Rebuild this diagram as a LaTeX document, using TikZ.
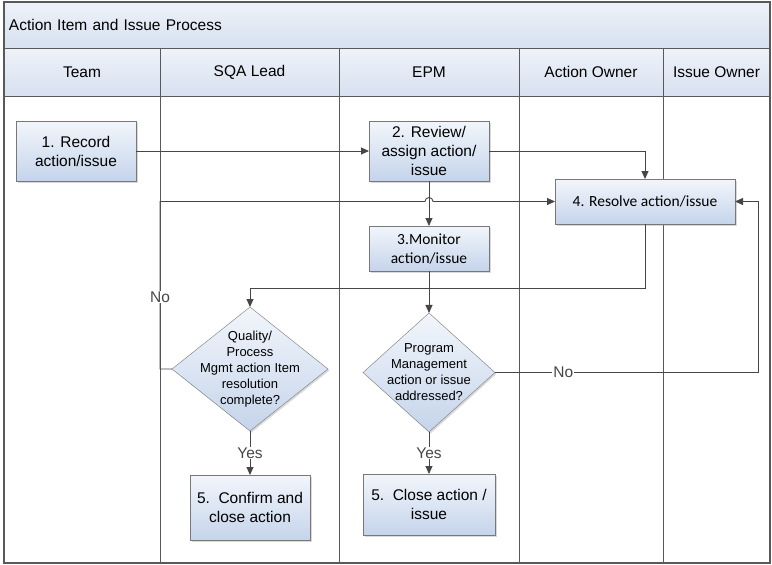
\documentclass[tikz,border=0pt]{standalone}
\usepackage{fontspec}
\setmainfont{Liberation Sans}
\newfontfamily\calfont{Carlito}
\usetikzlibrary{positioning,shapes.geometric,arrows.meta,shadows}
\definecolor{laneLine}{RGB}{89,89,89}
\definecolor{headTop}{RGB}{238,242,249}
\definecolor{headBot}{RGB}{215,225,240}
\definecolor{boxTop}{RGB}{242,246,251}
\definecolor{boxBot}{RGB}{197,212,235}
\definecolor{boxLine}{RGB}{120,120,120}
\definecolor{flowLine}{RGB}{70,70,70}

\begin{document}
\begin{tikzpicture}[x=1pt, y=-1pt,
    head/.style={draw=laneLine, line width=1pt, top color=headTop, bottom color=headBot, minimum height=48pt, outer sep=0pt, inner sep=0pt, font=\fontsize{15.5}{19}\selectfont},
    box/.style={draw=boxLine, top color=boxTop, bottom color=boxBot, align=center, inner sep=2pt, outer sep=0pt, font=\fontsize{15.5}{19}\selectfont, drop shadow={opacity=0.3, shadow xshift=1.5pt, shadow yshift=-1.5pt}},
    decision/.style={diamond, draw=boxLine, top color=boxTop, bottom color=boxBot, inner sep=0pt, outer sep=0pt, drop shadow={opacity=0.3, shadow xshift=1.5pt, shadow yshift=-1.5pt}},
    dtext/.style={align=center, font=\fontsize{13}{16}\selectfont},
    lbl/.style={fill=white, inner sep=1pt, font=\fontsize{15.5}{19}\selectfont},
    arrow/.style={-{Triangle[length=8pt,width=7pt]}, line width=0.9pt, flowLine}
  ]
  \useasboundingbox (0,0) rectangle (772,565);
  \coordinate (bottom) at (0,563);

  % pool title and lane headers
  \node[head, minimum width=766pt, minimum height=46pt, inner xsep=5pt, text width=756pt, align=left, anchor=north west] (title) at (4,2) {Action Item and Issue Process};
  \node[head, minimum width=156pt, anchor=north west] (team) at (4,48) {Team};
  \node[head, minimum width=179pt, right=0pt of team] (sqa) {SQA Lead};
  \node[head, minimum width=180pt, right=0pt of sqa] (epm) {EPM};
  \node[head, minimum width=144pt, right=0pt of epm] (aowner) {Action Owner};
  \node[head, minimum width=107pt, right=0pt of aowner] (iowner) {Issue Owner};
  \draw[laneLine, line width=1pt] (sqa.south west) -- (sqa.south west |- bottom);
  \draw[laneLine, line width=1pt] (epm.south west) -- (epm.south west |- bottom);
  \draw[laneLine, line width=1pt] (aowner.south west) -- (aowner.south west |- bottom);
  \draw[laneLine, line width=1pt] (iowner.south west) -- (iowner.south west |- bottom);

  % steps
  \node[box, minimum width=120pt, minimum height=60pt] (record) at (76,151) {1. Record\\action/issue};
  \node[box, minimum width=120pt, minimum height=60pt] (review) at (429,151) {2. Review/\\assign action/\\issue};
  \node[box, font=\calfont\fontsize{15.5}{19}\selectfont, minimum width=120pt, minimum height=45pt, below=45pt of review] (monitor) {3.Monitor\\action/issue};
  \node[box, font=\calfont\fontsize{15.5}{19}\selectfont, minimum width=180pt, minimum height=45pt] (resolve) at (645,201.5) {4. Resolve action/issue};
  \node[decision, minimum width=156pt, minimum height=124pt, label={[dtext]center:{Quality/\\Process\\Mgmt action Item\\resolution\\complete?}}] (quality) at (250,369) {};
  \node[decision, minimum width=132pt, minimum height=119pt, label={[dtext]center:{Program\\Management\\action or issue\\addressed?}}] (program) at (429,372.5) {};
  \node[box, minimum width=120pt, minimum height=65pt, below=44pt of quality] (confirm) {5.\ \ Confirm and\\close action};
  \node[box, minimum width=132pt, minimum height=61pt, below=42pt of program] (close) {5.\ \ Close action /\\issue};

  % flow
  \coordinate (hop) at (review.south |- resolve.west);
  \draw[arrow] (record) -- (review);
  \draw[arrow] (review.east) -| (resolve.north);
  \draw[arrow] (review) -- (monitor);
  \draw[arrow] (quality.west) -- ++(-12,0) coordinate (noturn) -- node[lbl, pos=0.43] {No} (noturn |- resolve.west) -- ([xshift=-4pt]hop) arc[start angle=180, end angle=360, radius=4] -- (resolve.west);
  \draw[arrow] (resolve.south) -- ++(0,64) -| (quality.north);
  \draw[arrow] (monitor) -- (program);
  \draw[arrow] (program.east) -- node[lbl, pos=0.26] {No} ++(263,0) |- (resolve.east);
  \draw[arrow] (quality) -- node[lbl] {Yes} (confirm);
  \draw[arrow] (program) -- node[lbl] {Yes} (close);

  \draw[laneLine, line width=1.5pt] (4,2) rectangle (770,563);
\end{tikzpicture}
\end{document}
